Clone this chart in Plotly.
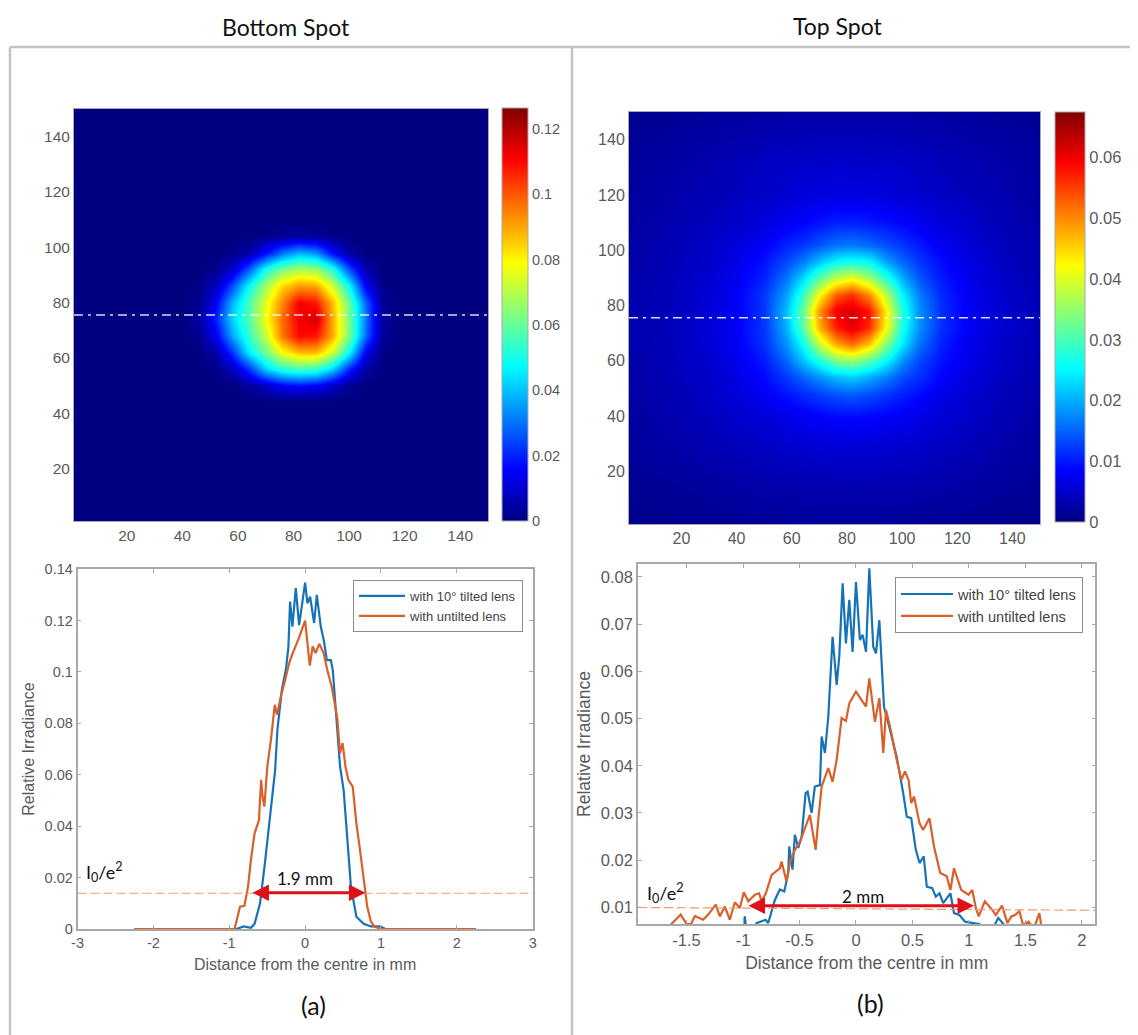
import plotly.graph_objects as go

W, H = 1130, 1027
PAGE = 8
def fx(p): return (p - PAGE) / W
def fy(p): return 1 - (p - PAGE) / H

# ---------- data ----------
jet = [[0, "#000080"], [0.125, "#0000ff"], [0.375, "#00ffff"], [0.625, "#ffff00"], [0.875, "#ff0000"], [1, "#800000"]]

bottom_x = [1, 40, 46, 52, 58, 64, 70, 76, 82, 88, 94, 100, 106, 112, 118, 150]
bottom_y = [1, 44, 50, 56, 62, 68, 74, 80, 86, 92, 98, 104, 110, 150]
bottom_z_milli = [
    [0, 0, 0, 0, 0, 0, 0, 0, 0, 0, 0, 0, 0, 0, 0, 0],
    [0, 0, 0, 0, 0, 0, 0, 0, 0, 0, 0, 0, 0, 0, 0, 0],
    [0, 0, 0, 0, 0, 3, 8, 14, 16, 14, 8, 2, 0, 0, 0, 0],
    [0, 0, 0, 1, 7, 22, 42, 52, 56, 54, 42, 20, 4, 0, 0, 0],
    [0, 0, 0, 5, 22, 46, 62, 78, 88, 88, 74, 48, 14, 1, 0, 0],
    [0, 0, 2, 14, 36, 54, 72, 96, 110, 108, 90, 62, 28, 3, 0, 0],
    [0, 0, 4, 20, 42, 58, 78, 97, 112, 116, 90, 62, 30, 4, 0, 0],
    [0, 0, 2, 15, 38, 57, 76, 94, 112, 108, 88, 60, 28, 3, 0, 0],
    [0, 0, 1, 8, 25, 48, 68, 84, 92, 90, 74, 48, 14, 1, 0, 0],
    [0, 0, 0, 2, 9, 27, 50, 62, 68, 66, 52, 25, 5, 0, 0, 0],
    [0, 0, 0, 0, 1, 5, 17, 30, 38, 34, 17, 4, 0, 0, 0, 0],
    [0, 0, 0, 0, 0, 0, 1, 3, 4, 3, 1, 0, 0, 0, 0, 0],
    [0, 0, 0, 0, 0, 0, 0, 0, 0, 0, 0, 0, 0, 0, 0, 0],
    [0, 0, 0, 0, 0, 0, 0, 0, 0, 0, 0, 0, 0, 0, 0, 0],
]

top_x = [1, 15, 30, 40, 50, 58, 64, 70, 76, 82, 88, 94, 100, 106, 114, 125, 135, 150]
top_y = [1, 15, 30, 40, 48, 54, 60, 66, 72, 78, 84, 90, 96, 102, 110, 120, 135, 150]
top_z_milli = [
    [0.8, 1, 1.2, 1.4, 1.5, 1.6, 1.7, 1.8, 1.8, 1.8, 1.8, 1.7, 1.6, 1.5, 1.4, 1.3, 1.1, 0.9],
    [1.2, 1.6, 2, 2.4, 2.8, 3, 3.1, 3.2, 3.3, 3.3, 3.3, 3.2, 3.1, 2.9, 2.7, 2.3, 1.9, 1.4],
    [1.8, 2.5, 3.4, 4, 4.7, 5.2, 5.4, 5.7, 5.9, 6, 5.9, 5.6, 5.3, 5, 4.4, 3.7, 3, 2],
    [2.1, 3, 4, 5, 5.8, 7, 7.8, 8.3, 8.8, 9, 8.8, 8.3, 7.6, 6.8, 5.7, 4.7, 3.6, 2.4],
    [2.4, 3.3, 4.6, 6, 7.8, 9.5, 11, 12.5, 14, 14.5, 13.5, 12, 10.5, 9, 7, 5.3, 4, 2.8],
    [2.5, 3.5, 5, 6.5, 9, 12, 15, 18, 21, 22, 20, 17, 13.5, 11.5, 8.5, 6, 4.5, 3],
    [2.7, 3.7, 5.3, 7.2, 10, 15, 21, 27, 33, 35, 31, 25, 18, 13, 9.6, 6.6, 4.9, 3.2],
    [2.9, 3.8, 5.6, 8, 11.5, 18, 26, 38, 48, 52, 46, 34, 24, 16, 10.5, 7, 5, 3.4],
    [3, 3.8, 5.8, 8, 12, 20, 31, 47, 57, 61, 56, 42, 27, 18, 11.5, 7.5, 5.5, 3.5],
    [3, 3.8, 5.8, 8, 12, 21, 32, 49, 60, 62, 58, 43, 28, 18, 11.5, 7.5, 5.5, 3.5],
    [3, 3.8, 5.7, 8, 12, 19, 29, 42, 53, 56, 50, 38, 25, 17, 11, 7.3, 5.3, 3.5],
    [2.8, 3.7, 5.4, 7.5, 10.5, 16, 23, 31, 38, 41, 36, 28, 20, 14, 10, 6.8, 5, 3.3],
    [2.5, 3.5, 5, 6.8, 9.5, 13, 16.5, 21, 25, 26, 25, 19, 15, 12, 9, 6.2, 4.6, 3],
    [2.4, 3.4, 4.7, 6, 8, 10.5, 12, 14, 16, 16.5, 15.5, 13.5, 12, 10, 7.5, 5.5, 4.2, 2.9],
    [2.2, 3, 4.2, 5, 6, 7.5, 8.3, 9.5, 10.5, 10.5, 10, 9.5, 8.5, 7.5, 6, 4.8, 3.7, 2.5],
    [2, 2.7, 3.5, 4.2, 4.8, 5.5, 6, 6.3, 6.5, 6.5, 6.4, 6.1, 5.6, 5.2, 4.6, 3.9, 3.2, 2.2],
    [1.6, 2.1, 2.8, 3.5, 4, 4.3, 4.4, 4.5, 4.6, 4.6, 4.5, 4.4, 4.3, 4, 3.6, 3.1, 2.6, 1.9],
    [1.1, 1.4, 1.7, 2, 2.3, 2.4, 2.5, 2.6, 2.6, 2.6, 2.6, 2.5, 2.4, 2.3, 2.1, 1.9, 1.6, 1.2],
]

a_blue_x = [-2.25, -0.95, -0.906, -0.81, -0.714, -0.666, -0.594, -0.532, -0.474, -0.395, -0.365, -0.307, -0.25, -0.22, -0.198, -0.167, -0.123, -0.079, -0.044, 0, 0.03, 0.066, 0.119, 0.154, 0.207, 0.25, 0.286, 0.339, 0.365, 0.395, 0.409, 0.461, 0.508, 0.556, 0.604, 0.676, 0.771, 0.867, 0.987, 1.06, 2.25]
a_blue_y = [0, 0, 0, 0.001, 0.0005, 0.002, 0.01, 0.025, 0.041, 0.0618, 0.0774, 0.093, 0.1015, 0.1098, 0.1273, 0.1176, 0.1326, 0.1182, 0.1254, 0.1347, 0.1267, 0.1292, 0.119, 0.1299, 0.1176, 0.1117, 0.1046, 0.1046, 0.1007, 0.0879, 0.0813, 0.0631, 0.054, 0.0346, 0.0165, 0.0048, 0.002, 0.001, 0.001, 0, 0]
a_orange_x = [-2.25, -1.0, -0.93, -0.858, -0.8, -0.752, -0.714, -0.666, -0.608, -0.58, -0.56, -0.537, -0.498, -0.45, -0.4, -0.369, -0.32, -0.273, -0.21, -0.163, -0.09, 0, 0.03, 0.062, 0.1, 0.139, 0.187, 0.244, 0.292, 0.35, 0.398, 0.426, 0.46, 0.494, 0.532, 0.57, 0.628, 0.676, 0.724, 0.771, 0.819, 0.867, 0.915, 1.01, 2.25]
a_orange_y = [0, 0, 0, 0.0087, 0.009, 0.0165, 0.0269, 0.0372, 0.0424, 0.058, 0.0515, 0.0476, 0.0632, 0.0736, 0.0872, 0.0833, 0.0904, 0.0956, 0.1034, 0.1073, 0.1125, 0.1199, 0.1125, 0.1024, 0.1099, 0.1073, 0.1109, 0.1073, 0.1008, 0.0943, 0.0865, 0.0814, 0.0684, 0.0723, 0.0632, 0.058, 0.0554, 0.0411, 0.0307, 0.0191, 0.0087, 0.0029, 0.0009, 0, 0]

b_blue_x = [-1.0, -0.984, -0.97, -0.9, -0.88, -0.8, -0.777, -0.762, -0.718, -0.674, -0.635, -0.6, -0.591, -0.562, -0.541, -0.511, -0.481, -0.446, -0.428, -0.393, -0.364, -0.319, -0.304, -0.275, -0.245, -0.207, -0.171, -0.148, -0.118, -0.089, -0.059, -0.03, 0, 0.035, 0.059, 0.089, 0.118, 0.153, 0.177, 0.207, 0.236, 0.248, 0.301, 0.36, 0.418, 0.45, 0.489, 0.53, 0.563, 0.6, 0.627, 0.675, 0.707, 0.74, 0.772, 0.836, 0.868, 0.916, 0.965, 1.03, 1.09, 1.2, 1.26, 1.33, 1.45]
b_blue_y = [0.005, 0.0081, 0.005, 0.005, 0.0067, 0.0074, 0.0067, 0.0081, 0.0116, 0.0138, 0.0134, 0.0173, 0.0229, 0.018, 0.0254, 0.0226, 0.025, 0.0342, 0.0345, 0.03, 0.0356, 0.0359, 0.0462, 0.0427, 0.0504, 0.0673, 0.0571, 0.0631, 0.0786, 0.0659, 0.0751, 0.0641, 0.0789, 0.0666, 0.0677, 0.0641, 0.0818, 0.0652, 0.0638, 0.0708, 0.0589, 0.0525, 0.0476, 0.0419, 0.0342, 0.0292, 0.0289, 0.0222, 0.0194, 0.0208, 0.0144, 0.0141, 0.0123, 0.013, 0.0109, 0.013, 0.0088, 0.0084, 0.007, 0.0067, 0.0065, 0.005, 0.0078, 0.0058, 0.005]
b_orange_x = [-1.93, -1.66, -1.634, -1.552, -1.5, -1.46, -1.427, -1.353, -1.309, -1.241, -1.206, -1.161, -1.117, -1.073, -1.028, -0.993, -0.954, -0.895, -0.857, -0.836, -0.798, -0.747, -0.674, -0.659, -0.615, -0.585, -0.541, -0.496, -0.408, -0.357, -0.334, -0.304, -0.245, -0.207, -0.171, -0.127, -0.089, -0.059, 0, 0.089, 0.118, 0.168, 0.207, 0.242, 0.266, 0.301, 0.355, 0.402, 0.434, 0.466, 0.489, 0.514, 0.563, 0.595, 0.65, 0.691, 0.746, 0.804, 0.836, 0.868, 0.932, 0.997, 1.03, 1.061, 1.087, 1.141, 1.206, 1.238, 1.293, 1.341, 1.376, 1.408, 1.447, 1.479, 1.527, 1.576, 1.624, 1.646, 1.7]
b_orange_y = [0.006, 0.006, 0.0065, 0.0085, 0.0065, 0.0065, 0.0082, 0.0074, 0.0085, 0.0106, 0.0081, 0.0102, 0.0074, 0.0111, 0.0099, 0.0132, 0.0113, 0.0127, 0.013, 0.0113, 0.013, 0.0169, 0.0183, 0.0197, 0.0155, 0.0194, 0.0222, 0.0239, 0.0296, 0.0222, 0.0285, 0.0356, 0.0395, 0.0366, 0.0412, 0.0501, 0.0495, 0.0532, 0.0557, 0.0525, 0.0585, 0.0493, 0.0543, 0.0427, 0.0518, 0.0483, 0.0419, 0.037, 0.0388, 0.037, 0.0321, 0.0335, 0.0278, 0.0264, 0.0289, 0.0229, 0.0173, 0.0166, 0.0137, 0.0183, 0.0137, 0.0127, 0.0137, 0.0099, 0.0081, 0.0113, 0.0095, 0.0084, 0.0104, 0.0067, 0.0081, 0.0084, 0.0092, 0.0063, 0.007, 0.0056, 0.0088, 0.0053, 0.005]

series_names = ["with 10° tilted lens", "with untilted lens"]
heat_ticks = [20, 40, 60, 80, 100, 120, 140]
a_cbar_ticks = [0, 0.02, 0.04, 0.06, 0.08, 0.1, 0.12]
b_cbar_ticks = [0, 0.01, 0.02, 0.03, 0.04, 0.05, 0.06]
a_x_ticks = [-3, -2, -1, 0, 1, 2, 3]
a_y_ticks = [0, 0.02, 0.04, 0.06, 0.08, 0.1, 0.12, 0.14]
b_x_ticks = [-1.5, -1, -0.5, 0, 0.5, 1, 1.5, 2]
b_y_ticks = [0.01, 0.02, 0.03, 0.04, 0.05, 0.06, 0.07, 0.08]
a_level = [0.0139, 0.0139]
b_level = [0.01, 0.0094]
a_cut = 75.5
b_cut = 75.6

# ---------- style ----------
BLUE, ORANGE = "#1673b8", "#d9602a"
GREY = "#5a5a5a"
AX = "#a8a8a8"
SANS = "Liberation Sans, Arial, sans-serif"
CAL = "Lato, Open Sans, sans-serif"

fig = go.Figure()

def heat(x, y, z, xa, ya, zmax, ticks, cb_x, cb_w, cb_top, cb_bot, size):
    fig.add_trace(go.Heatmap(
        x=x, y=y, z=[[v / 1000 for v in r] for r in z], xaxis=xa, yaxis=ya, colorscale=jet,
        zmin=0, zmax=zmax, zsmooth="best", hoverinfo="skip",
        colorbar=dict(x=fx(cb_x), xanchor="left", xpad=0, ypad=0, thickness=cb_w, thicknessmode="pixels",
                      y=fy(cb_bot), yanchor="bottom", len=(cb_bot - cb_top) / H, lenmode="fraction",
                      tickvals=ticks, ticktext=[f"{t:g}" for t in ticks], ticks="",
                      tickfont=dict(family=SANS, size=size, color=GREY), outlinecolor=AX, outlinewidth=1)))

heat(bottom_x, bottom_y, bottom_z_milli, "x", "y", 0.1264, a_cbar_ticks, 502, 26, 108, 521, 14.5)
heat(top_x, top_y, top_z_milli, "x3", "y3", 0.0675, b_cbar_ticks, 1055, 30, 112, 522, 16.5)

for xa, ya, cut in (("x", "y", a_cut), ("x3", "y3", b_cut)):
    fig.add_trace(go.Scatter(x=[1, 150], y=[cut, cut], xaxis=xa, yaxis=ya, mode="lines", showlegend=False,
                             hoverinfo="skip", line=dict(color="rgba(255,255,255,0.85)", width=1.6,
                                                         dash="9px,5px,3px,5px")))

def lines(bx, by, ox, oy, xa, ya, leg, lev_x, lev_y):
    fig.add_trace(go.Scatter(x=bx, y=by, xaxis=xa, yaxis=ya, mode="lines", name=series_names[0], legend=leg,
                             line=dict(color=BLUE, width=2.2)))
    fig.add_trace(go.Scatter(x=ox, y=oy, xaxis=xa, yaxis=ya, mode="lines", name=series_names[1], legend=leg,
                             line=dict(color=ORANGE, width=2.2)))
    fig.add_trace(go.Scatter(x=lev_x, y=lev_y, xaxis=xa, yaxis=ya, mode="lines", showlegend=False, cliponaxis=False,
                             line=dict(color="#ee9a6a", width=1.2, dash="9px,4px")))

lines(a_blue_x, a_blue_y, a_orange_x, a_orange_y, "x2", "y2", "legend", [-3, 3.05], a_level)
lines(b_blue_x, b_blue_y, b_orange_x, b_orange_y, "x4", "y4", "legend2", [-1.93, 2.15], b_level)

def heat_axis(l, r, t, b, anchor, size):
    f = dict(family=SANS, size=size, color=GREY)
    return dict(xa=dict(domain=[fx(l), fx(r)], range=[1, 150], tickvals=heat_ticks, anchor=anchor[1], ticks="",
                        showgrid=False, zeroline=False, showline=True, linecolor=AX, mirror=True, tickfont=f),
                ya=dict(domain=[fy(b), fy(t)], range=[1, 150], tickvals=heat_ticks, anchor=anchor[0], ticks="",
                        showgrid=False, zeroline=False, showline=True, linecolor=AX, mirror=True, tickfont=f))

def line_axis(l, r, t, b, anchor, xr, yr, xt, yt, size, tsize, fs, ss):
    f = dict(family=SANS, size=size, color=GREY)
    tf = dict(family=SANS, size=tsize, color=GREY)
    return dict(xa=dict(domain=[fx(l), fx(r)], range=xr, tickvals=xt, ticktext=[f"{v:g}" for v in xt], anchor=anchor[1],
                        ticks="inside", ticklen=4, tickcolor=AX, showgrid=False, zeroline=False, showline=True,
                        linecolor=AX, linewidth=1.5, mirror="ticks", tickfont=f,
                        title=dict(text="Distance from the centre in mm", standoff=fs, font=tf)),
                ya=dict(domain=[fy(b), fy(t)], range=yr, tickvals=yt, ticktext=[f"{v:g}" for v in yt], anchor=anchor[0],
                        ticks="inside", ticklen=4, tickcolor=AX, showgrid=False, zeroline=False, showline=True,
                        linecolor=AX, linewidth=1.5, mirror="ticks", tickfont=f,
                        title=dict(text="Relative Irradiance", standoff=ss, font=tf)))

h1 = heat_axis(74, 488, 109, 521, ("x", "y"), 15.5)
h2 = heat_axis(629, 1040, 112, 524, ("x3", "y3"), 16)
l1 = line_axis(77.5, 532.7, 569, 929, ("x2", "y2"), [-3, 3], [0, 0.14], a_x_ticks, a_y_ticks, 14.5, 16, 9, 6)
l2 = line_axis(638, 1095.4, 564, 924, ("x4", "y4"), [-1.93, 2.12], [0.0065, 0.0827], b_x_ticks, b_y_ticks, 16.5, 17.5, 9, 6)

def legend(l, t, size, item):
    return dict(x=fx(l), y=fy(t), xanchor="left", yanchor="top", bgcolor="white", bordercolor="#8c8c8c", borderwidth=1,
                font=dict(family=SANS, size=size, color="#444444"), itemwidth=item, tracegroupgap=0)

def note(text, px, py, size, anchor="center", color="#111111"):
    return dict(text=text, x=fx(px), y=fy(py), xref="paper", yref="paper", showarrow=False, xanchor=anchor,
                yanchor="middle", font=dict(family=CAL, size=size, color=color))

def arrow(x0, x1, y, xa, ya):
    return dict(x=x1, y=y, ax=x0, ay=y, xref=xa, yref=ya, axref=xa, ayref=ya, text="", showarrow=True,
                arrowside="end+start", arrowhead=2, arrowsize=1.1, arrowwidth=3, arrowcolor="#e0101a")

annotations = [
    note("Bottom Spot", 286, 27, 23), note("Top Spot", 838, 26, 23),
    note("(a)", 313, 1005, 25), note("(b)", 870, 1003, 25),
    note("I<sub>0</sub>/e<sup>2</sup>", 84, 872, 18, "left"),
    note("I<sub>0</sub>/e<sup>2</sup>", 645, 893, 18, "left"),
    note("1.9 mm", 305, 878, 17), note("2 mm", 863, 896, 17),
    arrow(-0.714, 0.795, 0.0141, "x2", "y2"),
    arrow(-0.965, 1.045, 0.01035, "x4", "y4"),
]

frame = [
    dict(type="line", xref="paper", yref="paper", x0=fx(10), x1=fx(1138), y0=fy(47), y1=fy(47)),
    dict(type="line", xref="paper", yref="paper", x0=fx(10), x1=fx(10), y0=fy(47), y1=fy(1035)),
    dict(type="line", xref="paper", yref="paper", x0=fx(572), x1=fx(572), y0=fy(47), y1=fy(1035)),
]
for s in frame:
    s["line"] = dict(color="#c4c4c4", width=2.5)

fig.update_layout(
    width=W, height=H, margin=dict(l=0, r=0, t=0, b=0, autoexpand=False), paper_bgcolor="white", plot_bgcolor="white",
    xaxis=h1["xa"], yaxis=h1["ya"], xaxis3=h2["xa"], yaxis3=h2["ya"],
    xaxis2=l1["xa"], yaxis2=l1["ya"], xaxis4=l2["xa"], yaxis4=l2["ya"],
    legend=legend(353, 580, 13, 46), legend2=legend(895, 577, 14.6, 52),
    annotations=annotations, shapes=frame, showlegend=True,
)
fig.write_html("out.html")
